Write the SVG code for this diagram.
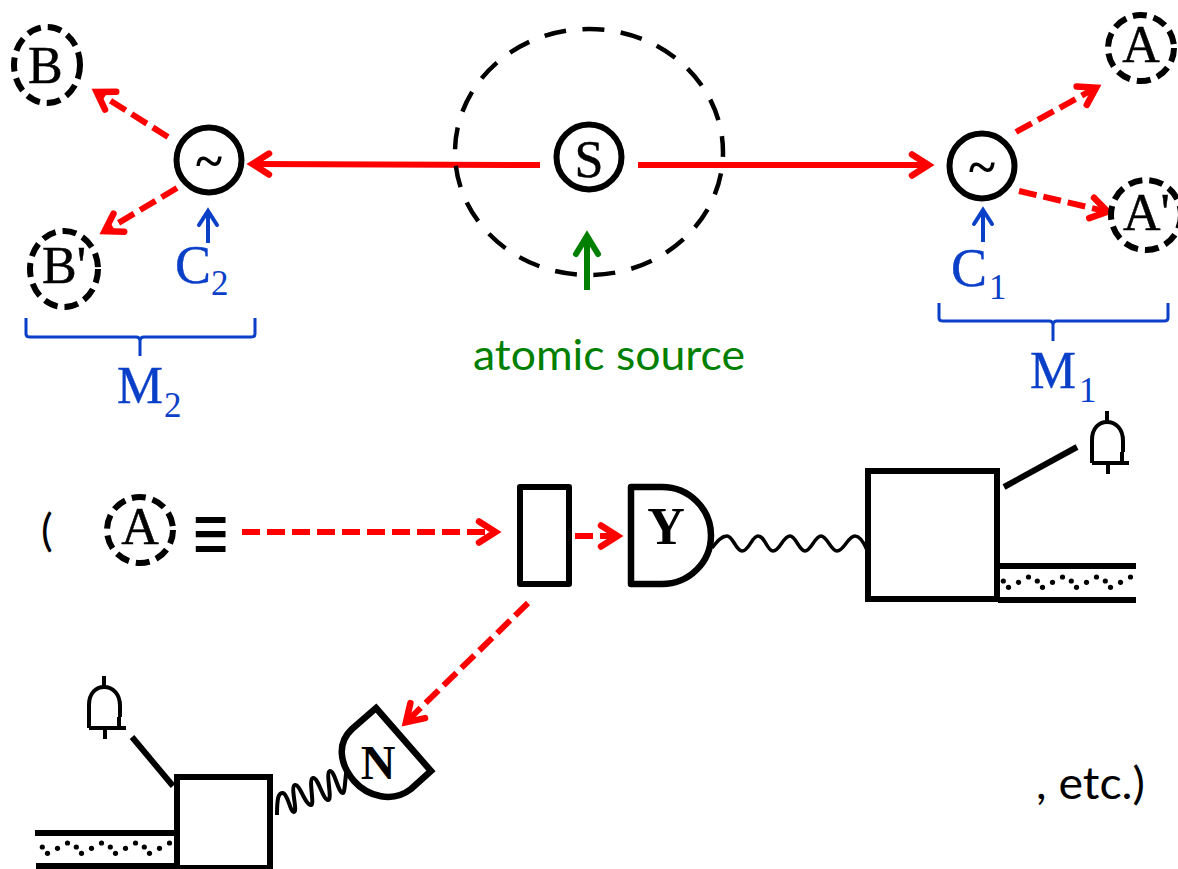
<svg xmlns="http://www.w3.org/2000/svg" width="1178" height="869" viewBox="0 0 1178 869">
<style>
.s{font-family:"Liberation Serif",serif;fill:#000;stroke:#000;stroke-width:.5}
.b{font-family:"Liberation Serif",serif;fill:#000;font-weight:bold}
.bl{font-family:"Liberation Serif",serif;fill:#0a3fc8;stroke:#0a3fc8;stroke-width:.4}
.sub{font-family:"Liberation Serif",serif;fill:#0a3fc8;font-size:35px}
.c{fill:#fff;stroke:#000;stroke-width:6}
.d{fill:none;stroke:#000;stroke-width:6;stroke-dasharray:14 7}
.k{fill:none;stroke:#000;stroke-width:6}
.bell{fill:none;stroke:#000;stroke-width:4}
.rs{fill:none;stroke:#f00;stroke-width:6;marker-end:url(#hr)}
.rd{fill:none;stroke:#f00;stroke-width:6;stroke-dasharray:18 7;marker-end:url(#hr)}
.be{fill:none;stroke:#0a3fc8;stroke-width:4;marker-end:url(#hb)}
.br{fill:none;stroke:#0a3fc8;stroke-width:3}
</style>
<defs>
<marker id="hr" markerUnits="userSpaceOnUse" markerWidth="40" markerHeight="40" refX="20" refY="20" orient="auto" overflow="visible"><path d="M4,9.5 L20.5,20 L4,30.5" fill="none" stroke="#f00" stroke-width="6.5" stroke-linecap="round"/></marker>
<marker id="hb" markerUnits="userSpaceOnUse" markerWidth="40" markerHeight="40" refX="20" refY="20" orient="auto" overflow="visible"><path d="M7,11 L21,20 L7,29" fill="none" stroke="#0a3fc8" stroke-width="4" stroke-linecap="round"/></marker>
<marker id="hg" markerUnits="userSpaceOnUse" markerWidth="40" markerHeight="40" refX="20" refY="20" orient="auto" overflow="visible"><path d="M3,9 L21,20 L3,31" fill="none" stroke="#007f00" stroke-width="6" stroke-linecap="round"/></marker>
<g id="dots"><circle cx="0" cy="4" r="2.6"/><circle cx="5.2" cy="10.3" r="2.6"/><circle cx="15.2" cy="5.3" r="2.6"/><circle cx="25.2" cy="0" r="2.6"/></g>
<g id="bell"><path class="bell" d="M0,11 V0 M-15,52 V29 C-15,17 -8,11 0,11 C9,11 16,18 16,30 V41 M15,41 V52 M-15,52 H22 M1,52 V63"/></g>
</defs>

<g id="connectors">
<path class="rs" d="M540,165 L253,164"/>
<path class="rs" d="M638,165 L928,165"/>
<path class="rd" d="M1016,132 L1095.7,87.9"/>
<path class="rd" d="M1019,191 L1107.2,211.6"/>
<path class="rd" d="M168,137 L97.1,92.2"/>
<path class="rd" d="M177,188 L105.1,230.9"/>
<path class="be" d="M983,242 V211"/>
<path class="be" d="M208,243 V212"/>
<path class="rd" d="M242,532 H495"/>
<path class="rd" d="M575,536 H617"/>
<path class="rd" d="M528,603 L406.3,721.8"/>
<path fill="none" stroke="#000" stroke-width="3.5" d="M712,548 C718,540 722,536 727,536 C733,536 736,551 742,551 C749,551 752,536 758,536 C765,536 767,551 773,551 C780,551 783,536 790,536 C796,536 799,551 805,551 C811,551 815,536 821,536 C827,536 831,551 837,551 C844,551 848,536 855,536 C860,536 864,543 867,550"/>
<path fill="none" stroke="#000" stroke-width="4" d="M277,815 C277,800 278,792 283,793 C288,794 290,812 294,812 C298,812 290,786 295,785 C300,784 305,805 311,805 C315,805 308,779 313,778 C318,777 323,800 328,800 C333,800 325,772 330,771 C335,771 338,793 343,793 C345,793 345,777 347,768"/>
<path class="k" d="M1004,487 L1077,447"/>
<path class="k" d="M132,737 L173,786"/>
</g>

<g id="source">
<ellipse cx="589" cy="152" rx="134" ry="123" fill="none" stroke="#000" stroke-width="4.5" stroke-dasharray="22 16.5" stroke-dashoffset="17"/>
<circle class="c" cx="589" cy="157" r="32.5"/>
<text class="s" x="589" y="177" font-size="52" text-anchor="middle">S</text>
</g>
<g id="source-arrow"><path fill="none" stroke="#007f00" stroke-width="6" marker-end="url(#hg)" d="M587,290 V237"/></g>
<g id="source-label"><text x="473" y="370" font-family="Lato,sans-serif" font-size="42" fill="#007f00" textLength="272" lengthAdjust="spacingAndGlyphs">atomic source</text></g>

<g id="split1"><circle class="c" cx="982" cy="166" r="32.5"/><text class="b" x="982" y="184" font-size="50" text-anchor="middle">~</text></g>
<g id="split2"><circle class="c" cx="209" cy="160" r="32.5"/><text class="b" x="209" y="178" font-size="50" text-anchor="middle">~</text></g>
<g id="nodeA"><circle class="d" cx="1141" cy="48" r="33"/><text class="s" x="1141" y="62" font-size="52" text-anchor="middle">A</text></g>
<g id="nodeA2"><circle class="d" cx="1146" cy="215" r="35"/><text class="s" x="1123" y="230" font-size="52">A'</text></g>
<g id="nodeB"><ellipse class="d" cx="47" cy="65" rx="33" ry="38"/><text class="s" x="28" y="83" font-size="52">B</text></g>
<g id="nodeB2"><ellipse class="d" cx="64" cy="269" rx="34" ry="38"/><text class="s" x="42" y="283" font-size="52">B'</text></g>

<g id="c1"><text class="bl" x="951" y="286" font-size="54">C</text><text class="sub" x="989" y="299">1</text></g>
<g id="c2"><text class="bl" x="175" y="283" font-size="54">C</text><text class="sub" x="211" y="295">2</text></g>
<g id="m1"><path class="br" d="M939,303 V318 Q939,321 943,321 H1049 Q1053,321 1053,325 V341 M1053,325 Q1053,321 1057,321 H1164 Q1168,321 1168,318 V303"/><text class="bl" x="1030" y="388" font-size="53" textLength="46" lengthAdjust="spacingAndGlyphs">M</text><text class="sub" x="1079" y="402">1</text></g>
<g id="m2"><path class="br" d="M26,318 V334 Q26,337 30,337 H136 Q140,337 140,341 V356 M140,341 Q140,337 144,337 H251 Q255,337 255,334 V318"/><text class="bl" x="117" y="403" font-size="53" textLength="46" lengthAdjust="spacingAndGlyphs">M</text><text class="sub" x="164" y="417">2</text></g>

<g id="paren"><text x="41" y="546" font-family="Lato,sans-serif" font-size="44" fill="#000">(</text></g>
<g id="nodeA-lower"><circle class="d" cx="140" cy="530" r="33"/><text class="s" x="140" y="544" font-size="52" text-anchor="middle">A</text></g>
<g id="equiv"><text class="b" transform="translate(211,563) scale(1,1.35)" font-size="64" text-anchor="middle">≡</text></g>

<g id="splitter"><rect x="520" y="487" width="49" height="97" fill="#fff" stroke="#000" stroke-width="6" stroke-linejoin="round"/></g>
<g id="detY"><path d="M631,487 H662 A49,48.5 0 0 1 662,584 H631 Z" fill="#fff" stroke="#000" stroke-width="6.5" stroke-linejoin="round"/><text class="b" x="666" y="544" font-size="52" text-anchor="middle">Y</text></g>
<g id="detN"><path d="M376,708 L431,771 L411,789 C393,803 368,797 354,781 C338,762 338,742 352,729 Z" fill="#fff" stroke="#000" stroke-width="6.5"/><text class="b" x="378" y="779" font-size="48" text-anchor="middle">N</text></g>

<g id="boxTR">
<rect x="868" y="471" width="129" height="128" fill="#fff" stroke="#000" stroke-width="6"/>
<path d="M998,566 H1136 M998,600 H1136" fill="none" stroke="#000" stroke-width="6"/>
<use href="#dots" x="1003.3" y="577"/><use href="#dots" x="1037.3" y="577"/><use href="#dots" x="1071.3" y="577"/><use href="#dots" x="1105.3" y="577"/>
<use href="#bell" x="1107" y="411"/>
</g>
<g id="boxBL">
<rect x="177" y="777" width="93" height="91" fill="#fff" stroke="#000" stroke-width="6"/>
<path d="M35,833 H175 M36,866 H174" fill="none" stroke="#000" stroke-width="6"/>
<use href="#dots" x="42.3" y="843"/><use href="#dots" x="76.3" y="843"/><use href="#dots" x="110.3" y="843"/><use href="#dots" x="144.3" y="843"/>
<use href="#bell" x="104" y="676"/>
</g>
<g id="etc"><text x="1036" y="799" font-family="Lato,sans-serif" font-size="44" fill="#000" textLength="109" lengthAdjust="spacingAndGlyphs">, etc.)</text></g>
</svg>
